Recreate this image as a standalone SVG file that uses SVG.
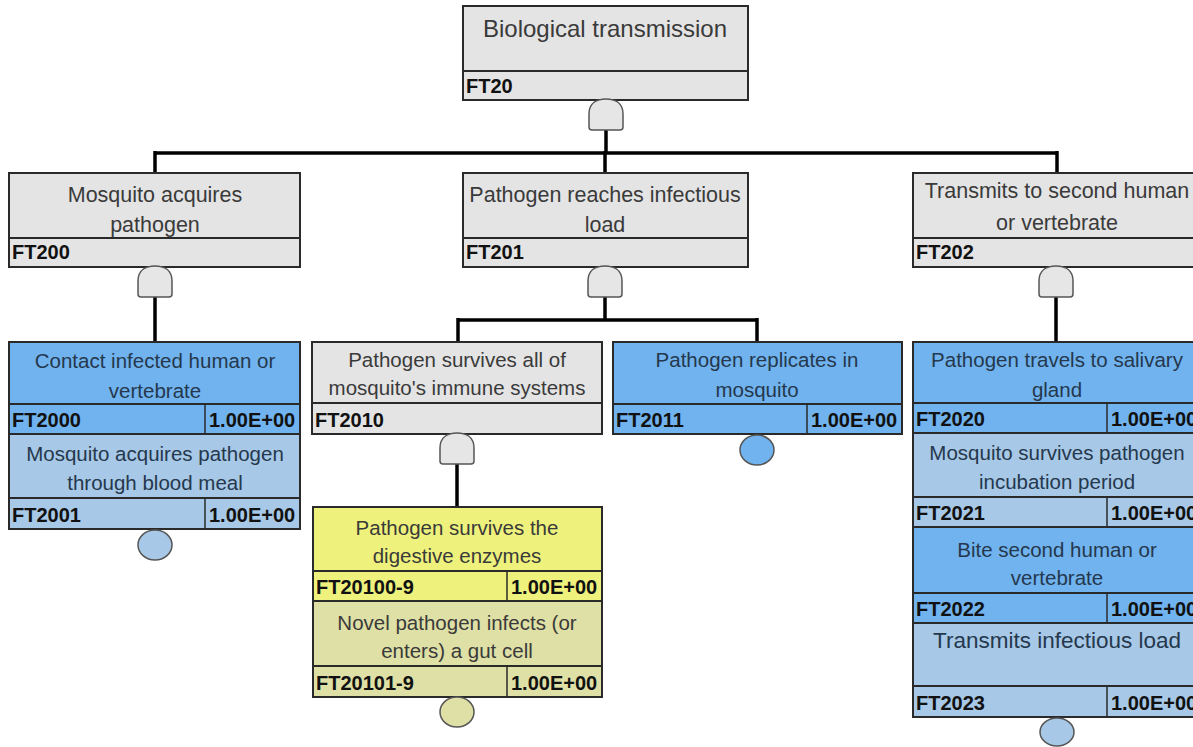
<svg xmlns="http://www.w3.org/2000/svg" width="1193" height="747" viewBox="0 0 1193 747">
<style>
  .bx{stroke:#2a2a2a;stroke-width:2}
  .gray{fill:#e4e4e4}
  .blue{fill:#70b3ee}
  .lblue{fill:#a7c8e6}
  .yel{fill:#eef27c}
  .tan{fill:#dfe0a6}
  .t{font-family:"Liberation Sans",Arial,sans-serif;font-size:20.5px;fill:#3a3a3a;text-anchor:middle}
  .t1{font-size:21.5px}
  .tb{fill:#25384d}
  .id{font-family:"Liberation Sans",Arial,sans-serif;font-size:20px;font-weight:bold;fill:#111}
  .div{stroke:#2a2a2a;stroke-width:1.5}
  .gate{fill:#e6e6e6;stroke:#555;stroke-width:1.5}
  .conn{stroke:#000;stroke-width:3.5;fill:none}
  .ev{stroke:#555;stroke-width:1.5}
</style>
<defs>
  <path id="andgate" d="M-14,31 Q-17,31 -17,28 L-17,15 C-17,4 -9,0 0,0 C9,0 17,4 17,15 L17,28 Q17,31 14,31 Z"/>
</defs>
<rect width="1193" height="747" fill="#fff"/>

<g id="connectors">
  <line class="conn" x1="606" y1="130" x2="606" y2="153"/>
  <line class="conn" x1="155" y1="153" x2="1057" y2="153"/>
  <line class="conn" x1="155" y1="151" x2="155" y2="173"/>
  <line class="conn" x1="605" y1="151" x2="605" y2="173"/>
  <line class="conn" x1="1057" y1="151" x2="1057" y2="173"/>
  <line class="conn" x1="155" y1="297" x2="155" y2="342"/>
  <line class="conn" x1="605" y1="297" x2="605" y2="320"/>
  <line class="conn" x1="458" y1="320" x2="757" y2="320"/>
  <line class="conn" x1="458" y1="318" x2="458" y2="342"/>
  <line class="conn" x1="757" y1="318" x2="757" y2="342"/>
  <line class="conn" x1="1056" y1="297" x2="1056" y2="342"/>
  <line class="conn" x1="457" y1="464" x2="457" y2="507"/>
</g>

<g id="FT20">
  <rect class="bx gray" x="463" y="6" width="285" height="65"/>
  <rect class="bx gray" x="463" y="71" width="285" height="29"/>
  <text class="t" x="605" y="37" style="font-size:24px">Biological transmission</text>
  <text class="id" x="466" y="93">FT20</text>
  <use href="#andgate" class="gate" x="606" y="99"/>
</g>

<g id="FT200">
  <rect class="bx gray" x="9" y="173" width="291" height="65"/>
  <rect class="bx gray" x="9" y="238" width="291" height="29"/>
  <text class="t t1" x="155" y="202">Mosquito acquires</text>
  <text class="t t1" x="155" y="232">pathogen</text>
  <text class="id" x="12" y="259">FT200</text>
  <use href="#andgate" class="gate" x="155" y="266"/>
</g>

<g id="FT201">
  <rect class="bx gray" x="463" y="173" width="285" height="65"/>
  <rect class="bx gray" x="463" y="238" width="285" height="29"/>
  <text class="t t1" x="605" y="202">Pathogen reaches infectious</text>
  <text class="t t1" x="605" y="232">load</text>
  <text class="id" x="466" y="259">FT201</text>
  <use href="#andgate" class="gate" x="605" y="266"/>
</g>

<g id="FT202">
  <rect class="bx gray" x="913" y="173" width="290" height="65"/>
  <rect class="bx gray" x="913" y="238" width="290" height="29"/>
  <text class="t t1" x="1057" y="198">Transmits to second human</text>
  <text class="t t1" x="1057" y="230">or vertebrate</text>
  <text class="id" x="916" y="259">FT202</text>
  <use href="#andgate" class="gate" x="1056" y="266"/>
</g>

<g id="FT2000">
  <rect class="bx blue" x="9" y="342" width="291" height="62"/>
  <rect class="bx blue" x="9" y="404" width="291" height="30"/>
  <line class="div" x1="205" y1="404" x2="205" y2="434"/>
  <text class="t tb" x="155" y="368">Contact infected human or</text>
  <text class="t tb" x="155" y="398">vertebrate</text>
  <text class="id" x="12" y="427">FT2000</text>
  <text class="id" x="209" y="427">1.00E+00</text>
</g>

<g id="FT2001">
  <rect class="bx lblue" x="9" y="434" width="291" height="64"/>
  <rect class="bx lblue" x="9" y="498" width="291" height="31"/>
  <line class="div" x1="205" y1="498" x2="205" y2="529"/>
  <text class="t tb" x="155" y="461">Mosquito acquires pathogen</text>
  <text class="t tb" x="155" y="490">through blood meal</text>
  <text class="id" x="12" y="522">FT2001</text>
  <text class="id" x="209" y="522">1.00E+00</text>
  <ellipse class="ev lblue" cx="155" cy="545" rx="17" ry="15"/>
</g>

<g id="FT2010">
  <rect class="bx gray" x="312" y="342" width="290" height="61"/>
  <rect class="bx gray" x="312" y="403" width="290" height="31"/>
  <text class="t" x="457" y="367">Pathogen survives all of</text>
  <text class="t" x="457" y="395">mosquito's immune systems</text>
  <text class="id" x="315" y="427">FT2010</text>
  <use href="#andgate" class="gate" x="457" y="433"/>
</g>

<g id="FT2011">
  <rect class="bx blue" x="613" y="342" width="289" height="62"/>
  <rect class="bx blue" x="613" y="404" width="289" height="30"/>
  <line class="div" x1="807" y1="404" x2="807" y2="434"/>
  <text class="t tb" x="757" y="367">Pathogen replicates in</text>
  <text class="t tb" x="757" y="397">mosquito</text>
  <text class="id" x="616" y="427">FT2011</text>
  <text class="id" x="811" y="427">1.00E+00</text>
  <ellipse class="ev blue" cx="757" cy="450" rx="17" ry="15"/>
</g>

<g id="FT20100-9">
  <rect class="bx yel" x="313" y="507" width="289" height="64"/>
  <rect class="bx yel" x="313" y="571" width="289" height="30"/>
  <line class="div" x1="507" y1="571" x2="507" y2="601"/>
  <text class="t" x="457" y="535">Pathogen survives the</text>
  <text class="t" x="457" y="563">digestive enzymes</text>
  <text class="id" x="316" y="594">FT20100-9</text>
  <text class="id" x="511" y="594">1.00E+00</text>
</g>

<g id="FT20101-9">
  <rect class="bx tan" x="313" y="601" width="289" height="65"/>
  <rect class="bx tan" x="313" y="666" width="289" height="31"/>
  <line class="div" x1="507" y1="666" x2="507" y2="697"/>
  <text class="t" x="457" y="630">Novel pathogen infects (or</text>
  <text class="t" x="457" y="658">enters) a gut cell</text>
  <text class="id" x="316" y="690">FT20101-9</text>
  <text class="id" x="511" y="690">1.00E+00</text>
  <ellipse class="ev tan" cx="457" cy="712" rx="17" ry="15"/>
</g>

<g id="FT2020">
  <rect class="bx blue" x="913" y="342" width="290" height="61"/>
  <rect class="bx blue" x="913" y="403" width="290" height="30"/>
  <line class="div" x1="1107" y1="403" x2="1107" y2="433"/>
  <text class="t tb" x="1057" y="367">Pathogen travels to salivary</text>
  <text class="t tb" x="1057" y="397">gland</text>
  <text class="id" x="916" y="426">FT2020</text>
  <text class="id" x="1111" y="426">1.00E+00</text>
</g>

<g id="FT2021">
  <rect class="bx lblue" x="913" y="433" width="290" height="64"/>
  <rect class="bx lblue" x="913" y="497" width="290" height="30"/>
  <line class="div" x1="1107" y1="497" x2="1107" y2="527"/>
  <text class="t tb" x="1057" y="460">Mosquito survives pathogen</text>
  <text class="t tb" x="1057" y="489">incubation period</text>
  <text class="id" x="916" y="520">FT2021</text>
  <text class="id" x="1111" y="520">1.00E+00</text>
</g>

<g id="FT2022">
  <rect class="bx blue" x="913" y="527" width="290" height="66"/>
  <rect class="bx blue" x="913" y="593" width="290" height="30"/>
  <line class="div" x1="1107" y1="593" x2="1107" y2="623"/>
  <text class="t tb" x="1057" y="557">Bite second human or</text>
  <text class="t tb" x="1057" y="585">vertebrate</text>
  <text class="id" x="916" y="616">FT2022</text>
  <text class="id" x="1111" y="616">1.00E+00</text>
</g>

<g id="FT2023">
  <rect class="bx lblue" x="913" y="623" width="290" height="63"/>
  <rect class="bx lblue" x="913" y="686" width="290" height="31"/>
  <line class="div" x1="1107" y1="686" x2="1107" y2="717"/>
  <text class="t tb" x="1057" y="648" style="font-size:22.5px">Transmits infectious load</text>
  <text class="id" x="916" y="710">FT2023</text>
  <text class="id" x="1111" y="710">1.00E+00</text>
  <ellipse class="ev lblue" cx="1057" cy="732" rx="17" ry="14"/>
</g>
</svg>
